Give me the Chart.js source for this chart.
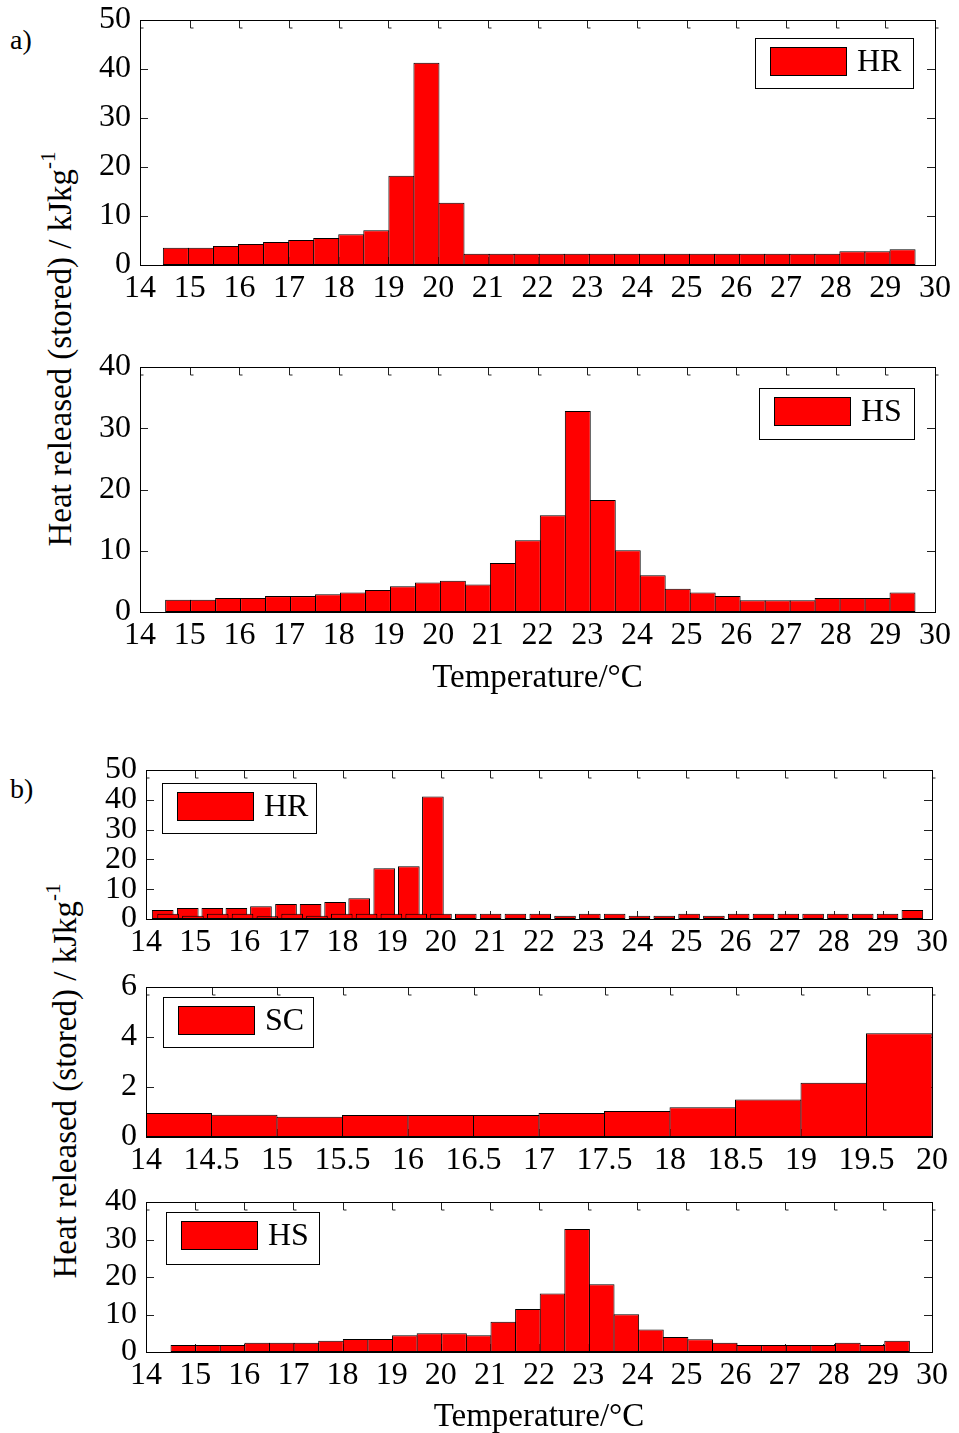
<!DOCTYPE html>
<html>
<head>
<meta charset="utf-8">
<script src="https://cdn.jsdelivr.net/npm/chart.js@4.4.1/dist/chart.umd.min.js"></script>
<style>
  html, body { margin: 0; padding: 0; background: #fff; }
  #page { position: relative; width: 959px; height: 1433px; overflow: hidden;
          font-family: "Liberation Serif", "Times New Roman", serif; color: #000; }
  canvas { position: absolute; left: 0; }
  .tag { position: absolute; font-size: 28px; line-height: 1; }
  .ytitle { position: absolute; font-size: 33px; line-height: 1; white-space: nowrap;
            transform: translate(-50%, -50%) rotate(-90deg); }
  .ytitle .sup { font-size: 21px; position: relative; top: -16px; }
</style>
</head>
<body>
<div id="page">
  <div class="tag" style="left:10px;top:26px">a)</div>
  <div class="tag" style="left:10px;top:775px">b)</div>
  <div class="ytitle" style="left:60px;top:349px">Heat released (stored) / kJkg<span class="sup">-1</span></div>
  <div class="ytitle" style="left:65px;top:1081px">Heat released (stored) / kJkg<span class="sup">-1</span></div>
</div>
<script>
// ---- (a) heat released, HR: 30 bins ----
const aHrCentres = [14.722, 15.226, 15.731, 16.235, 16.739, 17.244, 17.748, 18.252, 18.756, 19.261,
                    19.765, 20.269, 20.774, 21.278, 21.782, 22.287, 22.791, 23.295, 23.799, 24.304,
                    24.808, 25.312, 25.817, 26.321, 26.825, 27.330, 27.834, 28.338, 28.842, 29.347];
const aHrValues  = [3.5, 3.5, 3.9, 4.3, 4.7, 5.1, 5.5, 6.3, 7.1, 18.2,
                    41.3, 12.7, 2.3, 2.3, 2.3, 2.3, 2.3, 2.3, 2.3, 2.3,
                    2.3, 2.3, 2.3, 2.3, 2.3, 2.3, 2.3, 2.8, 2.8, 3.2];

// ---- (a) heat stored, HS: 30 bins ----
const aHsCentres = [14.767, 15.270, 15.773, 16.276, 16.778, 17.281, 17.784, 18.286, 18.789, 19.292,
                    19.795, 20.297, 20.800, 21.303, 21.806, 22.308, 22.811, 23.314, 23.817, 24.319,
                    24.822, 25.325, 25.827, 26.330, 26.833, 27.336, 27.838, 28.341, 28.844, 29.346];
const aHsValues  = [2.0, 2.0, 2.3, 2.3, 2.6, 2.6, 2.9, 3.2, 3.6, 4.2,
                    4.8, 5.1, 4.5, 8.0, 11.7, 15.8, 32.8, 18.3, 10.1, 6.0,
                    3.8, 3.2, 2.6, 1.9, 1.9, 1.9, 2.3, 2.3, 2.3, 3.2];

// ---- (b) heat released, HR: main bins below 20 °C ----
const bHrCentres = [14.34, 14.85, 15.35, 15.84, 16.34, 16.85, 17.35, 17.85, 18.34, 18.85, 19.35, 19.84];
const bHrValues  = [3.0, 3.7, 3.7, 3.7, 4.3, 5.0, 5.0, 5.7, 7.0, 17.0, 17.7, 41.1];

// ---- (b) heat released, HR: low bins drawn in front ----
const bHrLowCentres = [14.450, 14.955, 15.460, 15.965, 16.470, 16.975, 17.480, 17.985, 18.490, 18.995,
                       19.500, 20.005, 20.510, 21.015, 21.520, 22.025, 22.530, 23.035, 23.540, 24.045,
                       24.550, 25.055, 25.560, 26.065, 26.570, 27.075, 27.580, 28.085, 28.590, 29.095, 29.600];
const bHrLowValues  = [1.8, 1.1, 1.8, 1.8, 0.9, 1.8, 1.1, 1.8, 1.8, 1.8,
                       1.8, 1.8, 1.8, 1.8, 1.8, 1.8, 1.1, 1.8, 1.8, 1.1,
                       1.1, 1.8, 1.1, 1.8, 1.8, 1.8, 1.8, 1.8, 1.8, 1.8, 3.0];

// ---- (b) SC: 0.5 °C bins from 14 to 20 °C ----
const bScCentres = [14.25, 14.75, 15.25, 15.75, 16.25, 16.75, 17.25, 17.75, 18.25, 18.75, 19.25, 19.75];
const bScValues  = [0.96, 0.89, 0.81, 0.88, 0.88, 0.88, 0.96, 1.04, 1.19, 1.50, 2.17, 4.15];

// ---- (b) heat stored, HS: 30 bins ----
const bHsCentres = [14.760, 15.261, 15.762, 16.263, 16.764, 17.265, 17.766, 18.267, 18.768, 19.269,
                    19.770, 20.271, 20.772, 21.273, 21.774, 22.275, 22.776, 23.277, 23.778, 24.279,
                    24.780, 25.281, 25.782, 26.283, 26.784, 27.285, 27.786, 28.287, 28.788, 29.289];
const bHsValues  = [1.9, 1.9, 1.9, 2.5, 2.5, 2.5, 3.0, 3.5, 3.5, 4.5,
                    5.0, 5.0, 4.5, 8.1, 11.5, 15.6, 32.8, 18.1, 10.1, 6.0,
                    4.0, 3.4, 2.5, 1.9, 1.9, 1.9, 1.9, 2.5, 1.9, 3.0];

// axis tick settings
const tempTicksWide   = { min: 14, max: 30, step: 1 };
const tempTicksNarrow = { min: 14, max: 20, step: 0.5 };

const FONT = '"Liberation Serif", "Times New Roman", serif';
const BAR_RED = '#ff0000';
const TICK_SIZE = 32;
Chart.defaults.font.family = FONT;
Chart.defaults.color = '#000';

function points(xs, ys) { return xs.map((x, i) => ({ x, y: ys[i] })); }

// Inward tick marks on all four sides, drawn underneath the bars; frame on top
const innerTicks = {
  id: 'innerTicks',
  beforeDatasetsDraw(chart) {
    const { ctx, chartArea: a, scales: { x, y } } = chart;
    const L = 8;
    ctx.save();
    ctx.strokeStyle = '#222';
    ctx.lineWidth = 1;
    ctx.beginPath();
    x.ticks.forEach(t => {
      const px = Math.round(x.getPixelForValue(t.value)) + 0.5;
      ctx.moveTo(px, a.bottom); ctx.lineTo(px, a.bottom - L);
      ctx.moveTo(px, a.top); ctx.lineTo(px, a.top + L);
      ctx.lineTo(px + 3, a.top + L);
    });
    y.ticks.forEach(t => {
      const py = Math.round(y.getPixelForValue(t.value)) + 0.5;
      ctx.moveTo(a.left, py); ctx.lineTo(a.left + L, py);
      ctx.moveTo(a.right, py); ctx.lineTo(a.right - L, py);
    });
    ctx.stroke();
    ctx.restore();
  },
  afterDatasetsDraw(chart) {
    const { ctx, chartArea: a } = chart;
    ctx.save();
    ctx.strokeStyle = '#000';
    ctx.lineWidth = 1;
    ctx.strokeRect(Math.round(a.left) + 0.5, Math.round(a.top) + 0.5,
                   Math.round(a.right - a.left), Math.round(a.bottom - a.top));
    ctx.restore();
  }
};

// Framed legend inside the plot area
const boxLegend = {
  id: 'boxLegend',
  afterDraw(chart, args, o) {
    const a = chart.chartArea, ctx = chart.ctx;
    const ds = chart.data.datasets[o.dataset];
    const bx = Math.round(o.side === 'right' ? a.right - o.dx - o.w : a.left + o.dx);
    const by = Math.round(a.top + o.dy);
    ctx.save();
    ctx.fillStyle = '#fff';
    ctx.fillRect(bx, by, o.w, o.h);
    ctx.strokeStyle = '#000';
    ctx.lineWidth = 1;
    ctx.strokeRect(bx + 0.5, by + 0.5, o.w, o.h);
    const sx = bx + 15, sy = by + 9, sw = 77, sh = 29;
    ctx.fillStyle = ds.backgroundColor;
    ctx.fillRect(sx, sy, sw, sh);
    ctx.strokeStyle = '#000';
    ctx.strokeRect(sx + 0.5, sy + 0.5, sw - 1, sh - 1);
    ctx.fillStyle = '#000';
    ctx.font = '32px ' + FONT;
    ctx.textBaseline = 'middle';
    ctx.textAlign = 'left';
    ctx.fillText(ds.label, sx + sw + 10, sy + sh / 2 + 1);
    ctx.restore();
  }
};

function barSet(label, data, extra) {
  return Object.assign({
    label, data,
    backgroundColor: BAR_RED,
    borderColor: '#000',
    borderWidth: 1,
    borderSkipped: false,
    categoryPercentage: 1,
    barPercentage: 1.04
  }, extra || {});
}

function tempAxis(t, height, title, hidden) {
  return {
    type: 'linear', min: t.min, max: t.max, offset: false,
    grid: { display: false, drawTicks: false, offset: false },
    border: { display: false },
    ticks: { stepSize: t.step, autoSkip: false, maxRotation: 0, padding: 8,
             color: hidden ? 'rgba(0,0,0,0)' : '#000',
             font: { size: TICK_SIZE, lineHeight: 1 },
             callback: v => String(Math.round(v * 10) / 10) },
    title: title ? { display: true, text: title, font: { size: 33, lineHeight: 1.2 },
                     color: hidden ? 'rgba(0,0,0,0)' : '#000',
                     padding: { top: 0, bottom: 0 } } : { display: false },
    afterFit(s) { s.height = height; }
  };
}

function valueAxis(max, step, width, hidden) {
  return {
    type: 'linear', min: 0, max: max,
    grid: { display: false, drawTicks: false },
    border: { display: false },
    ticks: { stepSize: step, autoSkip: false, padding: 9,
             color: hidden ? 'rgba(0,0,0,0)' : '#000',
             font: { size: TICK_SIZE, lineHeight: 1 } },
    afterFit(s) { s.width = width; }
  };
}

// panel: plot-area rectangle in page pixels; optional front layer of bars on its own canvas
function panel(box, spec) {
  const PT = 24;
  const h = PT + (box.bottom - box.top) + box.below;
  const layers = [{ datasets: spec.datasets, hidden: false }];
  if (spec.front) layers.push({ datasets: spec.front, hidden: true });
  layers.forEach(layer => {
    const canvas = document.createElement('canvas');
    canvas.width = 959;
    canvas.height = h;
    canvas.style.top = (box.top - PT) + 'px';
    canvas.style.width = '959px';
    canvas.style.height = h + 'px';
    document.getElementById('page').appendChild(canvas);
    new Chart(canvas, {
      type: 'bar',
      data: { datasets: layer.datasets },
      options: {
        responsive: false,
        animation: false,
        events: [],
        devicePixelRatio: 1,
        layout: { padding: { top: PT, left: 0, right: 959 - box.right, bottom: 0 } },
        scales: {
          x: tempAxis(spec.xTicks, box.below, spec.xTitle, layer.hidden),
          y: valueAxis(spec.yMax, spec.yStep, box.left, layer.hidden)
        },
        plugins: { legend: { display: false }, tooltip: { enabled: false },
                   boxLegend: spec.legend }
      },
      plugins: layer.hidden ? [] : [innerTicks, boxLegend]
    });
  });
}

// (a) HR
panel({ top: 19, bottom: 265, left: 140, right: 937, below: 46 }, {
  datasets: [barSet('HR', points(aHrCentres, aHrValues))],
  xTicks: tempTicksWide, yMax: 50, yStep: 10,
  legend: { dataset: 0, side: 'right', dx: 22, dy: 18, w: 158, h: 50 }
});

// (a) HS
panel({ top: 366, bottom: 612, left: 140, right: 937, below: 86 }, {
  datasets: [barSet('HS', points(aHsCentres, aHsValues))],
  xTicks: tempTicksWide, xTitle: 'Temperature/°C', yMax: 40, yStep: 10,
  legend: { dataset: 0, side: 'right', dx: 21, dy: 21, w: 155, h: 51 }
});

// (b) HR: main bins, with the low bins laid over them
panel({ top: 769, bottom: 919, left: 146, right: 932, below: 46 }, {
  datasets: [barSet('HR', points(bHrCentres, bHrValues), { barPercentage: 0.9 })],
  front: [barSet('HR', points(bHrLowCentres, bHrLowValues), { barPercentage: 0.87 })],
  xTicks: tempTicksWide, yMax: 50, yStep: 10,
  legend: { dataset: 0, side: 'left', dx: 16, dy: 13, w: 154, h: 50 }
});

// (b) SC
panel({ top: 986, bottom: 1137, left: 146, right: 932, below: 46 }, {
  datasets: [barSet('SC', points(bScCentres, bScValues), { barPercentage: 1.015 })],
  xTicks: tempTicksNarrow, yMax: 6, yStep: 2,
  legend: { dataset: 0, side: 'left', dx: 17, dy: 10, w: 150, h: 50 }
});

// (b) HS
panel({ top: 1201, bottom: 1352, left: 146, right: 932, below: 85 }, {
  datasets: [barSet('HS', points(bHsCentres, bHsValues))],
  xTicks: tempTicksWide, xTitle: 'Temperature/°C', yMax: 40, yStep: 10,
  legend: { dataset: 0, side: 'left', dx: 20, dy: 10, w: 153, h: 52 }
});
</script>
</body>
</html>
